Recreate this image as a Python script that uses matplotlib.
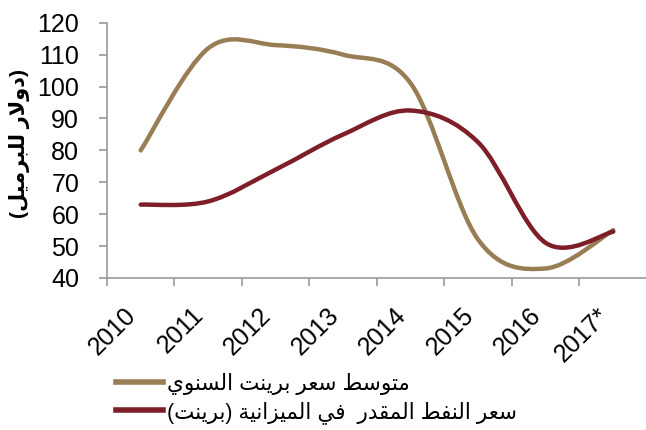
import matplotlib
matplotlib.use("Agg")
import matplotlib.pyplot as plt
from matplotlib.path import Path
from matplotlib.patches import PathPatch
from matplotlib.lines import Line2D

years = ["2010", "2011", "2012", "2013", "2014", "2015", "2016", "2017*"]
brent_avg = [80, 112, 113, 110, 101, 52, 43, 55]
budget_price = [63, 64, 74, 85, 92.5, 82.5, 51, 54.5]

label_avg = "متوسط سعر برينت السنوي"
label_budget = "سعر النفط المقدر  في الميزانية (برينت)"
y_title = "(دولار للبرميل)"

BROWN = "#987d55"
DARK_RED = "#7e1e28"

plt.rcParams["font.family"] = ["Liberation Sans", "DejaVu Sans"]

# contextual forms: isolated, final, initial, medial
FORMS = {
    "ا": ("\ufe8d", "\ufe8e", None, None),
    "ب": ("\ufe8f", "\ufe90", "\ufe91", "\ufe92"),
    "ت": ("\ufe95", "\ufe96", "\ufe97", "\ufe98"),
    "ة": ("\ufe93", "\ufe94", None, None),
    "د": ("\ufea9", "\ufeaa", None, None),
    "ر": ("\ufead", "\ufeae", None, None),
    "ز": ("\ufeaf", "\ufeb0", None, None),
    "س": ("\ufeb1", "\ufeb2", "\ufeb3", "\ufeb4"),
    "ط": ("\ufec1", "\ufec2", "\ufec3", "\ufec4"),
    "ع": ("\ufec9", "\ufeca", "\ufecb", "\ufecc"),
    "ف": ("\ufed1", "\ufed2", "\ufed3", "\ufed4"),
    "ق": ("\ufed5", "\ufed6", "\ufed7", "\ufed8"),
    "ل": ("\ufedd", "\ufede", "\ufedf", "\ufee0"),
    "م": ("\ufee1", "\ufee2", "\ufee3", "\ufee4"),
    "ن": ("\ufee5", "\ufee6", "\ufee7", "\ufee8"),
    "و": ("\ufeed", "\ufeee", None, None),
    "ي": ("\ufef1", "\ufef2", "\ufef3", "\ufef4"),
}


def joins_next(c):
    return c in FORMS and FORMS[c][2] is not None


def arabic(text):
    # shape letters and lay them out right-to-left
    out = []
    i = 0
    n = len(text)
    while i < n:
        c = text[i]
        if c not in FORMS:
            out.append(c)
            i += 1
            continue
        from_prev = i > 0 and joins_next(text[i - 1])
        if c == "ل" and i + 1 < n and text[i + 1] == "ا":
            out.append("\ufefc" if from_prev else "\ufefb")
            i += 2
            continue
        to_next = joins_next(c) and i + 1 < n and text[i + 1] in FORMS
        iso, fin, ini, med = FORMS[c]
        if from_prev and to_next:
            out.append(med)
        elif from_prev:
            out.append(fin)
        elif to_next:
            out.append(ini)
        else:
            out.append(iso)
        i += 1
    vis = "".join(reversed(out))
    return vis.translate(str.maketrans("()", ")("))


def smooth_path(xs, ys):
    # cubic bezier through the points, excel style smoothing
    pts = list(zip(xs, ys))
    verts = [pts[0]]
    codes = [Path.MOVETO]
    for i in range(len(pts) - 1):
        p0 = pts[i - 1] if i > 0 else pts[i]
        p1 = pts[i]
        p2 = pts[i + 1]
        p3 = pts[i + 2] if i + 2 < len(pts) else pts[i + 1]
        c1 = (p1[0] + (p2[0] - p0[0]) / 6, p1[1] + (p2[1] - p0[1]) / 6)
        c2 = (p2[0] - (p3[0] - p1[0]) / 6, p2[1] - (p3[1] - p1[1]) / 6)
        verts += [c1, c2, p2]
        codes += [Path.CURVE4] * 3
    return Path(verts, codes)


fig = plt.figure(figsize=(6.46, 4.30), dpi=100)
ax = fig.add_axes([0.1656, 0.3535, 0.8359, 0.5935])

x = [i + 0.5 for i in range(len(years))]
for vals, col in [(brent_avg, BROWN), (budget_price, DARK_RED)]:
    ax.add_patch(PathPatch(smooth_path(x, vals), fill=False, edgecolor=col,
                           lw=3.2, capstyle="round", joinstyle="round"))

ax.set_xlim(0, len(years))
ax.set_ylim(40, 120)
ax.set_yticks(range(40, 121, 10))
ax.set_xticks(range(0, len(years) + 1))
ax.set_xticklabels([])
ax.set_xticks(x, minor=True)
ax.set_xticklabels(years, minor=True, rotation=45, ha="right", va="top",
                   rotation_mode="default")

for s in ["top", "right"]:
    ax.spines[s].set_visible(False)
for s in ["left", "bottom"]:
    ax.spines[s].set_color("#9a9a9a")
    ax.spines[s].set_linewidth(1.2)

ax.tick_params(axis="y", which="major", length=6, width=1.2, color="#9a9a9a",
               labelsize=18, pad=14)
ax.tick_params(axis="x", which="major", length=6, width=1.2, color="#9a9a9a")
ax.tick_params(axis="x", which="minor", length=0, labelsize=18, pad=18)

fig.text(20 / 646, 1 - 143 / 430, arabic(y_title), rotation=90, ha="center",
         va="center", fontsize=15, fontweight="bold")

handles = [Line2D([], [], color=BROWN, lw=4), Line2D([], [], color=DARK_RED, lw=4)]
fig.legend(handles, [arabic(label_avg), arabic(label_budget)],
           loc="upper left", bbox_to_anchor=(116 / 646, 1 - 373 / 430),
           frameon=False, fontsize=15.5, handlelength=2.2, handletextpad=0.15,
           labelspacing=0.28, borderpad=0, borderaxespad=0)

fig.savefig("out.png", dpi=100)
